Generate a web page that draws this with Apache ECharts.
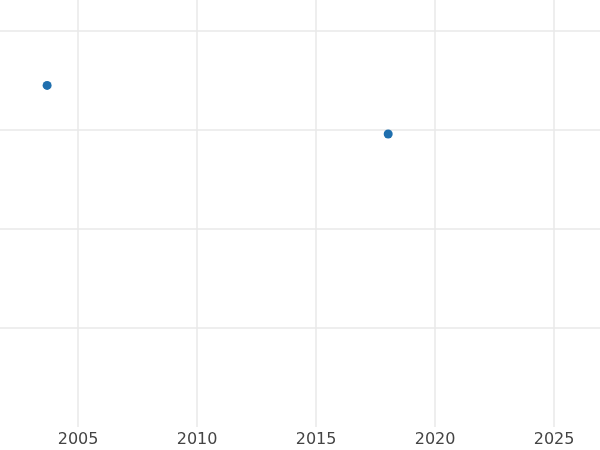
<!DOCTYPE html>
<html><head><meta charset="utf-8">
<script src="https://cdn.jsdelivr.net/npm/echarts@6/dist/echarts.min.js"></script>
<style>html,body{margin:0;padding:0}#c{width:600px;height:450px}</style>
</head><body><div id="c"></div>
<script>
const years = [2003.7, 2018.03];
const values = [3.45, 2.96];
const xTicks = [2005, 2010, 2015, 2020, 2025];
const yTicks = [1, 2, 3, 4];
const chart = echarts.init(document.getElementById('c'));
chart.setOption({
  animation: false,
  grid: {left: 0, right: 0, top: 0, bottom: 23, containLabel: false},
  xAxis: {
    type: 'value', min: 2001.72, max: 2026.93,
    axisLine: {show: false},
    axisTick: {show: false, customValues: xTicks},
    axisLabel: {customValues: xTicks, formatter: v => String(v), color: '#444', fontSize: 16, fontFamily: 'DejaVu Sans', margin: 5},
    splitLine: {show: true, lineStyle: {color: '#e9e9e9', width: 1.5}}
  },
  yAxis: {
    type: 'value', min: 0, max: 4.313,
    axisLine: {show: false},
    axisTick: {show: false, customValues: yTicks},
    axisLabel: {show: false, customValues: yTicks},
    splitLine: {show: true, lineStyle: {color: '#e9e9e9', width: 1.5}}
  },
  series: [{
    type: 'scatter', symbolSize: 9,
    itemStyle: {color: '#1f6fae', opacity: 1},
    data: years.map((y, i) => [y, values[i]])
  }]
});
</script></body></html>
